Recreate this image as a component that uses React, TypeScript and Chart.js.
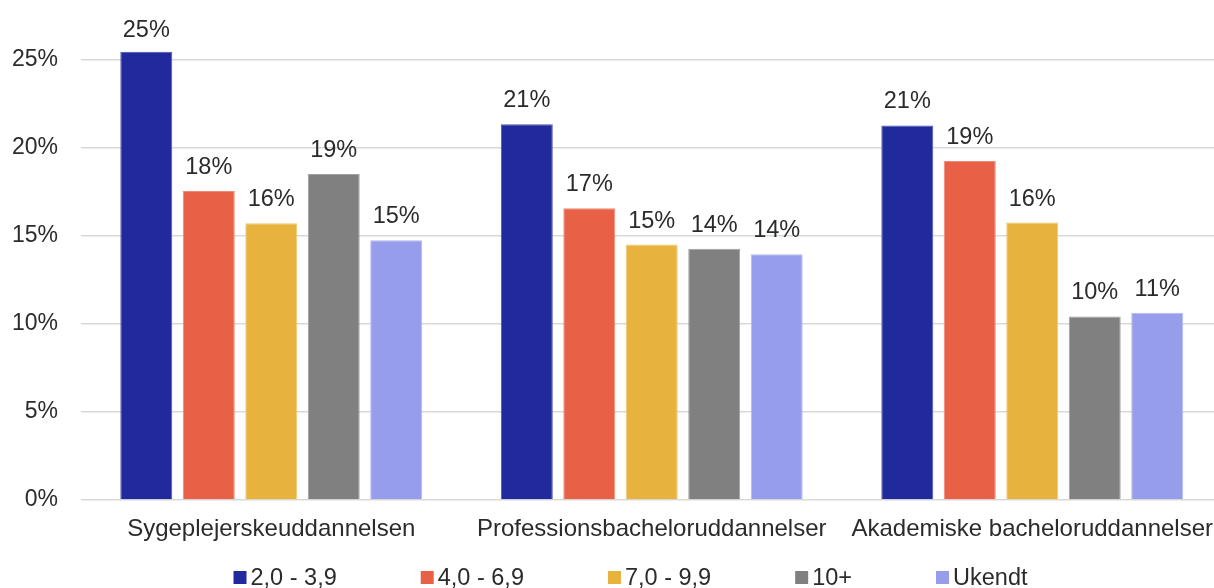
import React, { useEffect, useRef } from "react";
import { Chart, registerables } from "chart.js";

Chart.register(...registerables);

const categories = [
  "Sygeplejerskeuddannelsen",
  "Professionsbacheloruddannelser",
  "Akademiske bacheloruddannelser",
];
const seriesLabels = ["2,0 - 3,9", "4,0 - 6,9", "7,0 - 9,9", "10+", "Ukendt"];
const s1 = [25.47, 21.35, 21.28];
const s2 = [17.55, 16.57, 19.26];
const s3 = [15.72, 14.51, 15.76];
const s4 = [18.52, 14.27, 10.43];
const s5 = [14.76, 13.96, 10.64];
const seriesValues = [s1, s2, s3, s4, s5];
const seriesColors = ["#202A9C", "#E86046", "#E8B33D", "#808080", "#969DEA"];
const seriesBorders = ["#4a53b0", "#f08a76", "#f0c970", "#a0a0a0", "#b4b9f0"];
const yTicks = [0, 5, 10, 15, 20, 25];

const FONT = "'Liberation Sans', Arial, sans-serif";
const TEXT = "#2b2b2b";

const labelPlugin = {
  id: "barLabels",
  afterDatasetsDraw(chart: any) {
    const ctx = chart.ctx;
    ctx.save();
    ctx.font = `23.5px ${FONT}`;
    ctx.fillStyle = TEXT;
    ctx.textAlign = "center";
    ctx.textBaseline = "alphabetic";
    chart.data.datasets.forEach((ds: any, i: number) => {
      const meta = chart.getDatasetMeta(i);
      meta.data.forEach((bar: any, j: number) => {
        const v = ds.data[j];
        const y = Math.max(bar.y - 17, chart.chartArea.top + 21);
        ctx.fillText(Math.round(v) + "%", bar.x, y);
      });
    });
    ctx.restore();
  },
};

const legendPlugin = {
  id: "customLegend",
  afterDraw(chart: any) {
    const ctx = chart.ctx;
    ctx.save();
    ctx.font = `23.5px ${FONT}`;
    ctx.textBaseline = "alphabetic";
    ctx.textAlign = "left";
    const box = 13;
    const gap = 4;
    const spacing = 84;
    const items = chart.data.datasets.map((ds: any) => ({
      label: ds.label,
      color: ds.backgroundColor,
      w: ctx.measureText(ds.label).width,
    }));
    const total =
      items.reduce((a: number, it: any) => a + box + gap + it.w, 0) +
      spacing * (items.length - 1);
    let x = chart.width / 2 - total / 2;
    const baseline = 585;
    items.forEach((it: any) => {
      ctx.fillStyle = it.color;
      ctx.fillRect(x, 571, box, box);
      ctx.fillStyle = TEXT;
      ctx.fillText(it.label, x + box + gap, baseline);
      x += box + gap + it.w + spacing;
    });
    ctx.restore();
  },
};

export default function App() {
  const ref = useRef<HTMLCanvasElement | null>(null);
  useEffect(() => {
    if (!ref.current) return;
    const chart = new Chart(ref.current, {
      type: "bar",
      data: {
        labels: categories,
        datasets: seriesLabels.map((label, i) => ({
          label,
          data: seriesValues[i],
          backgroundColor: seriesColors[i],
          borderColor: seriesBorders[i],
          borderWidth: 1,
          categoryPercentage: 0.821,
          barPercentage: 0.832,
        })),
      },
      options: {
        responsive: false,
        animation: false,
        layout: { padding: { top: 16, right: 38.5, left: 0, bottom: 0 } },
        plugins: {
          legend: { display: false },
          tooltip: { enabled: false },
        },
        scales: {
          x: {
            grid: { display: false, drawTicks: false },
            border: { display: false },
            ticks: {
              font: { family: FONT, size: 24 },
              color: TEXT,
              padding: 15,
              maxRotation: 0,
              autoSkip: false,
            },
            afterFit: (scale: any) => {
              scale.height = 88;
              scale.paddingLeft = 0;
              scale.paddingRight = 0;
            },
          },
          y: {
            min: 0,
            max: 27.5,
            grid: { color: "#d9d9d9", lineWidth: 1.5, drawTicks: false },
            border: { display: false },
            afterBuildTicks: (scale: any) => {
              scale.ticks = yTicks.map((v) => ({ value: v }));
            },
            ticks: {
              font: { family: FONT, size: 23 },
              color: TEXT,
              padding: 23,
              callback: (v: any) => v + "%",
            },
            afterFit: (scale: any) => {
              scale.width = 81;
              scale.paddingTop = 0;
              scale.paddingBottom = 0;
            },
          },
        },
      },
      plugins: [labelPlugin, legendPlugin],
    });
    return () => chart.destroy();
  }, []);
  return (
    <div
      style={{
        position: "absolute",
        left: 0,
        top: 0,
        width: 1214,
        height: 588,
        overflow: "hidden",
        background: "#ffffff",
      }}
    >
      <canvas ref={ref} width={1261} height={588} style={{ display: "block" }} />
    </div>
  );
}
